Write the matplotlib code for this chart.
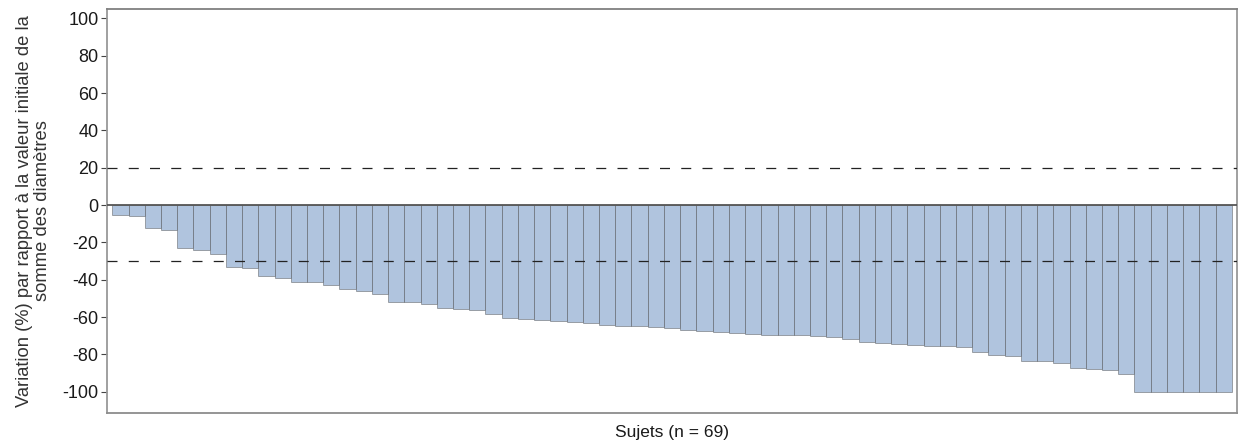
"""Waterfall plot: best change from baseline in sum of target lesion diameters."""

import matplotlib

matplotlib.use("Agg")
import matplotlib.pyplot as plt  # noqa: E402
import numpy as np  # noqa: E402

# change from baseline (%), one value per subject, sorted
changes = [
    -5.1, -5.6, -12.2, -13.5, -22.9, -23.8, -26.3, -33.4, -33.9, -38.2,
    -38.9, -41.0, -41.1, -42.6, -45.1, -46.2, -47.8, -51.7, -51.9, -52.9,
    -54.9, -55.8, -56.3, -58.3, -60.4, -60.9, -61.5, -61.8, -62.5, -63.1,
    -64.1, -64.6, -64.7, -65.4, -65.9, -66.8, -67.3, -68.2, -68.3, -69.2,
    -69.3, -69.6, -69.8, -70.2, -70.5, -71.9, -73.4, -73.9, -74.6, -75.0,
    -75.5, -75.7, -76.1, -78.5, -80.5, -80.6, -83.7, -83.7, -84.8, -87.2,
    -87.8, -88.1, -90.3, -100.0, -100.0, -100.0, -100.0, -100.0, -100.0,
]
y_ticks = [100, 80, 60, 40, 20, 0, -20, -40, -60, -80, -100]
thresholds = [20, -30]

y_label = ("Variation (%) par rapport à la valeur initiale de la\n"
           "somme des diamètres")
x_label = f"Sujets (n = {len(changes)})"

plt.rcParams["font.family"] = ["Liberation Sans", "DejaVu Sans"]

fig = plt.figure(figsize=(12.38, 4.45), dpi=100)
ax = fig.add_axes([0.0862, 0.0725, 0.9133, 0.907])

x = np.arange(len(changes))
ax.bar(x, changes, width=1.0, color="#B0C4DE", edgecolor=(0.2, 0.2, 0.2, 0.55),
       linewidth=0.5, zorder=2)

ax.axhline(0, color="#555555", linewidth=1.3, zorder=3)
for t in thresholds:
    ax.axhline(t, color="#222222", linewidth=0.9, dashes=(8, 9), zorder=4)

ax.set_xlim(-0.845, len(changes) - 0.155)
ax.set_ylim(-111.2, 105)
ax.set_xticks([])
ax.set_yticks(y_ticks)
ax.set_yticklabels([str(v) for v in y_ticks], fontsize=13, color="#1a1a1a")
ax.tick_params(axis="y", length=4, width=0.8, color="#444444", pad=2)

ax.set_ylabel(y_label, fontsize=13.2, color="#333333", labelpad=8,
              linespacing=1.05)
ax.set_xlabel(x_label, fontsize=12.5, color="#1a1a1a", labelpad=9)

for side in ("left", "right", "top", "bottom"):
    ax.spines[side].set_color("#999999")
    ax.spines[side].set_linewidth(1.3)
ax.spines["top"].set_color("#808080")
ax.spines["bottom"].set_color("#8c8c8c")

fig.savefig("out.png", dpi=100)
plt.close(fig)
